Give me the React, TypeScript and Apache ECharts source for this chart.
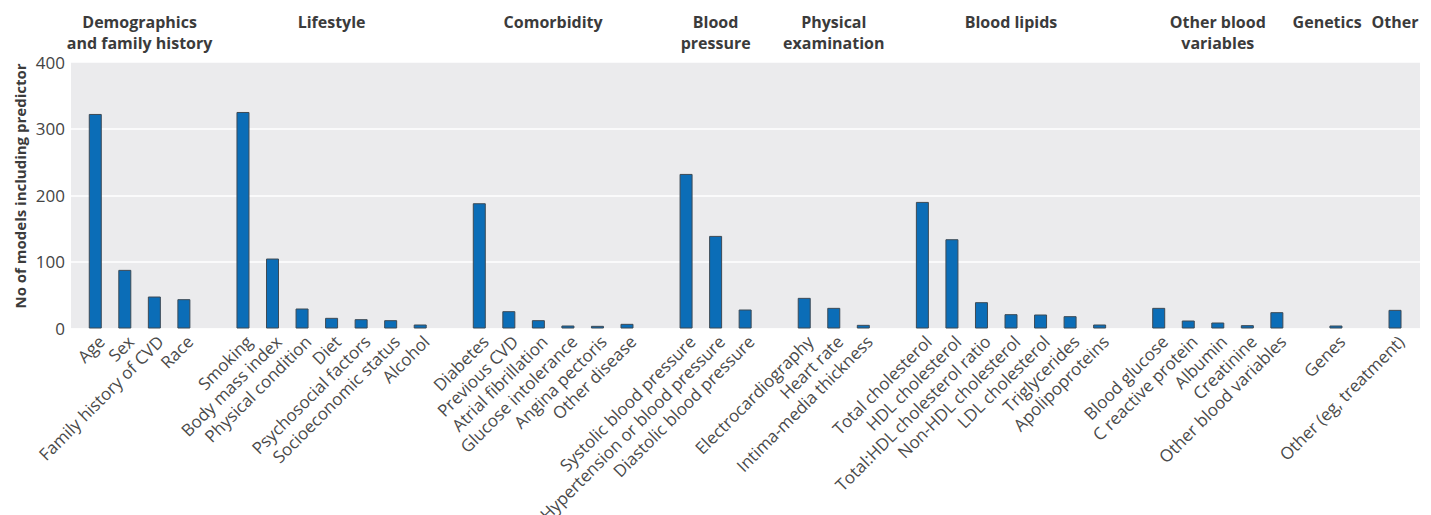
import React, { useEffect, useRef } from "react";
import * as echarts from "echarts";

const categories: string[] = [
  "Age", "Sex", "Family history of CVD", "Race", "",
  "Smoking", "Body mass index", "Physical condition", "Diet", "Psychosocial factors", "Socioeconomic status", "Alcohol", "",
  "Diabetes", "Previous CVD", "Atrial fibrillation", "Glucose intolerance", "Angina pectoris", "Other disease", "",
  "Systolic blood pressure", "Hypertension or blood pressure", "Diastolic blood pressure", "",
  "Electrocardiography", "Heart rate", "Intima-media thickness", "",
  "Total cholesterol", "HDL cholesterol", "Total:HDL cholesterol ratio", "Non-HDL cholesterol", "LDL cholesterol", "Triglycerides", "Apolipoproteins", "",
  "Blood glucose", "C reactive protein", "Albumin", "Creatinine", "Other blood variables", "",
  "Genes", "",
  "Other (eg, treatment)",
];

const values: (number | null)[] = [
  322, 88, 48, 44, null,
  325, 105, 30, 16, 14, 12.5, 6, null,
  188, 26, 12.5, 4.5, 4, 7, null,
  232, 139, 28.5, null,
  46, 31, 5.5, null,
  190, 134, 39.5, 21.5, 21, 18.5, 6, null,
  31, 12, 9, 5, 24.5, null,
  4.5, null,
  28,
];

const yTicks = [0, 100, 200, 300, 400];

const groupNames: string[] = [
  "Demographics\nand family history",
  "Lifestyle",
  "Comorbidity",
  "Blood\npressure",
  "Physical\nexamination",
  "Blood lipids",
  "Other blood\nvariables",
  "Genetics",
  "Other",
];
// category index at which each group header is centred
const groupCenters: number[] = [1.5, 8, 15.5, 21, 25, 31, 38, 41.7, 44];

const yAxisTitle = "No of models including predictor";

const FONT = "'Open Sans', 'Noto Sans', sans-serif";

export default function App() {
  const ref = useRef<HTMLDivElement>(null);

  useEffect(() => {
    document.body.style.margin = "0";
    document.body.style.overflow = "hidden";
    if (!ref.current) return;
    const chart = echarts.init(ref.current, undefined, { renderer: "svg" });

    const gridTop = 62;
    const gridBottom = 515 - 328.5;

    chart.setOption({
      animation: false,
      grid: [
        {
          left: 71,
          right: 11,
          top: gridTop,
          bottom: gridBottom,
          show: true,
          backgroundColor: "#ebebed",
          borderWidth: 0,
          containLabel: false,
          outerBoundsMode: "none",
        },
        {
          left: 80.5,
          right: 21.2,
          top: gridTop,
          bottom: gridBottom,
          show: false,
          containLabel: false,
          outerBoundsMode: "none",
        },
      ],
      xAxis: [
        { type: "value", gridIndex: 0, min: 0, max: 1, show: false },
        {
          type: "category",
          gridIndex: 1,
          data: categories,
          boundaryGap: true,
          axisLine: { show: false },
          axisTick: { show: false },
          splitLine: { show: false },
          axisLabel: {
            interval: 0,
            rotate: 45,
            align: "right",
            verticalAlign: "top",
            margin: 4,
            fontSize: 17,
            color: "#4a4a4a",
            fontFamily: FONT,
          },
        },
      ],
      yAxis: [
        {
          type: "value",
          gridIndex: 0,
          min: yTicks[0],
          max: yTicks[yTicks.length - 1],
          interval: 100,
          axisLine: { show: false },
          axisTick: { show: false },
          axisLabel: {
            margin: 6,
            fontSize: 17,
            color: "#444",
            fontFamily: FONT,
          },
          splitLine: { show: true, lineStyle: { color: "#ffffff", width: 1.6 } },
        },
        {
          type: "value",
          gridIndex: 1,
          min: yTicks[0],
          max: yTicks[yTicks.length - 1],
          interval: 100,
          show: false,
        },
      ],
      series: [
        {
          type: "bar",
          xAxisIndex: 1,
          yAxisIndex: 1,
          data: values,
          barWidth: 13,
          itemStyle: {
            color: "#0b6db7",
            borderColor: "#3d4a55",
            borderWidth: 1,
          },
        },
      ],
    });

    const p0 = chart.convertToPixel({ xAxisIndex: 1 }, 0) as number;
    const pN = chart.convertToPixel({ xAxisIndex: 1 }, categories.length - 1) as number;
    const slot = (pN - p0) / (categories.length - 1);

    const headerTexts = groupNames.map((name, i) => ({
      type: "text",
      x: p0 + groupCenters[i] * slot,
      y: 11.5,
      style: {
        text: name,
        fontSize: 16,
        fontWeight: "bold",
        fontFamily: FONT,
        fill: "#3b3b3b",
        align: "center",
        verticalAlign: "top",
        lineHeight: 21,
      },
    }));

    chart.setOption({
      graphic: [
        ...headerTexts,
        {
          type: "text",
          x: 20,
          y: 186,
          rotation: Math.PI / 2,
          style: {
            text: yAxisTitle,
            fontSize: 15,
            fontWeight: "bold",
            fontFamily: FONT,
            fill: "#3b3b3b",
            align: "center",
            verticalAlign: "middle",
          },
        },
      ],
    });

    return () => chart.dispose();
  }, []);

  return <div ref={ref} style={{ width: 1431, height: 515 }} />;
}
